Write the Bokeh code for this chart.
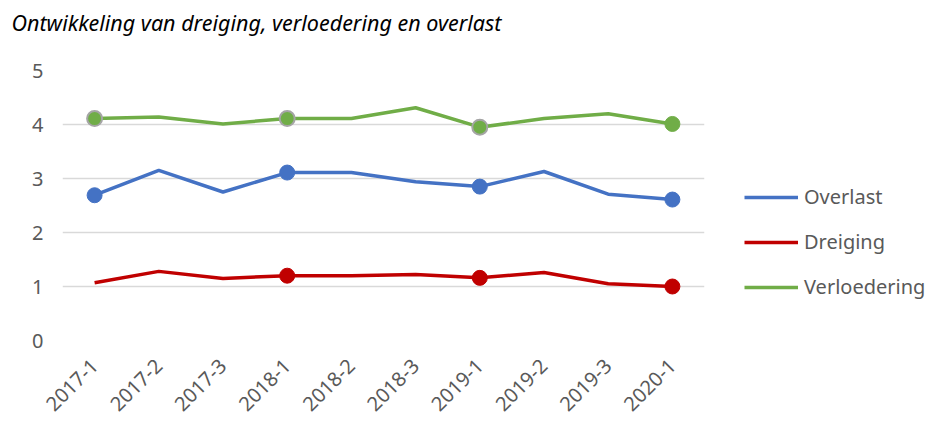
from math import pi
from bokeh.plotting import figure
from bokeh.models import Legend, LegendItem, Range1d, FactorRange, Title
from bokeh.embed import file_html
from bokeh.resources import INLINE

categories = ["2017-1", "2017-2", "2017-3", "2018-1", "2018-2", "2018-3",
              "2019-1", "2019-2", "2019-3", "2020-1"]
overlast = [2.69, 3.15, 2.75, 3.11, 3.11, 2.94, 2.85, 3.13, 2.71, 2.61]
dreiging = [1.07, 1.28, 1.15, 1.20, 1.20, 1.22, 1.16, 1.26, 1.05, 1.00]
verloedering = [4.11, 4.14, 4.01, 4.11, 4.11, 4.31, 3.95, 4.11, 4.20, 4.01]
overlast_markers = [0, 3, 6, 9]
dreiging_markers = [3, 6, 9]
verloedering_markers_outlined = [0, 3, 6]
verloedering_markers_plain = [9]
y_ticks = [0, 1, 2, 3, 4, 5]
title_text = "Ontwikkeling van dreiging, verloedering en overlast"

FONT = "Noto Sans"
GREY = "#595959"

p = figure(frame_width=642, frame_height=270,
           x_range=FactorRange(factors=categories),
           y_range=Range1d(0, 5), output_backend="svg", toolbar_location=None,
           min_border_left=62, min_border_right=0, min_border_top=70,
           min_border_bottom=0)
p.outline_line_color = None
p.background_fill_color = "white"

# spacer between frame and title (nearest the frame)
spacer = Title(text=" ", text_font=FONT, text_font_size="1px", standoff=31,
               align="left")
p.add_layout(spacer, "above")
title = Title(text=title_text, text_font=FONT, text_font_style="italic",
              text_font_size="21.5px", text_color="#000000", align="left",
              standoff=0, offset=-51)
p.add_layout(title, "above")

p.xgrid.grid_line_color = None
p.ygrid.grid_line_color = "#D9D9D9"
p.ygrid.grid_line_width = 1.3
p.yaxis.ticker = y_ticks
p.yaxis.axis_line_color = None
p.yaxis.major_tick_line_color = None
p.yaxis.minor_tick_line_color = None
p.yaxis.major_label_standoff = 13
p.yaxis.major_label_text_font = FONT
p.yaxis.major_label_text_font_size = "20px"
p.yaxis.major_label_text_color = GREY

p.xaxis.axis_line_color = None
p.xaxis.major_tick_line_color = None
p.xaxis.major_label_orientation = pi / 4
p.xaxis.major_label_standoff = 16
p.xaxis.major_label_text_font = FONT
p.xaxis.major_label_text_font_size = "20px"
p.xaxis.major_label_text_color = GREY

series = [
    ("Overlast", overlast, "#4472C4", overlast_markers),
    ("Dreiging", dreiging, "#C00000", dreiging_markers),
]
items = []
for name, vals, col, mk in series:
    r = p.line(categories, vals, line_color=col, line_width=3.5, line_join="round")
    p.scatter([categories[i] for i in mk], [vals[i] for i in mk], size=15,
              fill_color=col, line_color=col)
    items.append(LegendItem(label=name, renderers=[r]))

g = "#70AD47"
r = p.line(categories, verloedering, line_color=g, line_width=3.5, line_join="round")
p.scatter([categories[i] for i in verloedering_markers_outlined],
          [verloedering[i] for i in verloedering_markers_outlined], size=15,
          fill_color=g, line_color="#A5A5A5", line_width=2)
p.scatter([categories[i] for i in verloedering_markers_plain],
          [verloedering[i] for i in verloedering_markers_plain], size=15,
          fill_color=g, line_color=g)
items.append(LegendItem(label="Verloedering", renderers=[r]))

legend = Legend(items=items, location="bottom_left", orientation="vertical")
legend.border_line_color = None
legend.background_fill_alpha = 0
legend.label_text_font = FONT
legend.label_text_font_size = "20px"
legend.label_text_color = GREY
legend.glyph_width = 54
legend.glyph_height = 22
legend.label_height = 22
legend.spacing = 18
legend.label_standoff = 6
legend.margin = 40
legend.padding = 5
p.add_layout(legend, "right")

open("out.html", "w").write(file_html(p, INLINE))
